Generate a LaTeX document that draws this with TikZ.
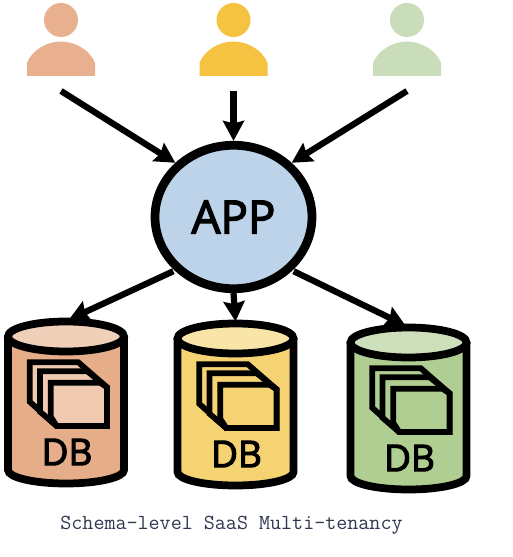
\documentclass[tikz,border=0pt]{standalone}
\usepackage{fontspec}
\newfontfamily\labelfont{Open Sans}[RawFeature={embolden=3}]
\usetikzlibrary{arrows.meta, shapes.geometric}
\definecolor{peach}{HTML}{E8B08E}
\definecolor{amber}{HTML}{F5C242}
\definecolor{sage}{HTML}{CADDBB}
\definecolor{appblue}{HTML}{BDD3E9}
\definecolor{peachbody}{HTML}{E6AE88}
\definecolor{peachlid}{HTML}{F1D0BA}
\definecolor{peachface}{HTML}{EFC9B0}
\definecolor{amberbody}{HTML}{F5D373}
\definecolor{amberlid}{HTML}{FAE5A8}
\definecolor{sagebody}{HTML}{B0CE92}
\definecolor{sagelid}{HTML}{CEDFBC}
\definecolor{caption}{HTML}{2F3850}

\begin{document}
\begin{tikzpicture}[
    x=0.02cm, y=-0.02cm,
    app/.style={
      ellipse, draw=black, fill=appblue, line width=0.175cm, inner sep=0pt,
      minimum width=3.14cm, minimum height=2.87cm,
      font=\labelfont\fontsize{26}{26}\selectfont
    },
    arrow/.style={-{Stealth[length=0.4cm, width=0.42cm, inset=0.05cm]}, black, line width=0.125cm},
    dblabel/.style={font=\labelfont\fontsize{21}{21}\selectfont, inner sep=0pt},
    captionlabel/.style={font=\ttfamily\fontsize{12.2}{12}\selectfont, text=caption, inner sep=0pt},
    page/.style={line width=0.115cm, line join=miter, draw=black},
    pics/user/.style={code={
      \fill[#1] (0,20) circle [radius=17];
      \fill[#1] (-34,76) -- (-34,63) .. controls (-29,50) and (-14,41.5) .. (0,41.5)
        .. controls (14,41.5) and (29,50) .. (34,63) -- (34,76) -- cycle;
      \coordinate (-foot) at (0,91);
    }},
    pics/dbcan/.style n args={3}{code={
      \draw[line width=0.155cm, fill=#1] (-58,18.5) -- (-58,152)
        arc [start angle=180, end angle=0, x radius=58, y radius=13.5]
        -- (58,18.5);
      \draw[line width=0.155cm, fill=#2] (0,18.5) ellipse [x radius=58, y radius=15];
      % stacked pages
      \draw[page, fill=#3] (-36.3,44.3) -- (12.3,44.3) -- (41,69.3) -- (41,108)
        -- (-9.3,108) -- (-36.3,83.7) -- cycle;
      \draw[page, fill=#3] (-26,53.3) -- (21.3,53.3) -- (41,69.3) -- (41,108)
        -- (-9.3,108) -- (-26,93.7) -- cycle;
      \draw[page, fill=#3] (-15.3,64.7) -- (34,64.7) -- (41,69.3) -- (41,108)
        -- (-9.3,108) -- (-15.3,98.7) -- cycle;
      \node[dblabel] (-label) at (1,134) {DB};
      \coordinate (-top) at (0,1.5);
    }}
  ]
  \useasboundingbox (0,0) rectangle (512,557);

  \pic (usera) at (61,0) {user=peach};
  \pic (userb) at (233.5,0) {user=amber};
  \pic (userc) at (407,0) {user=sage};

  \node[app] (server) at (233.5,217) {APP};

  \pic (dba) at (66,318) {dbcan={peachbody}{peachlid}{peachface}};
  \pic (dbb) at (235.5,320) {dbcan={amberbody}{amberlid}{amberbody}};
  \pic (dbc) at (408.5,324) {dbcan={sagebody}{sagelid}{sagebody}};

  \draw[arrow] (usera-foot) -- (server.137);
  \draw[arrow] (userb-foot) -- (server.north);
  \draw[arrow] (userc-foot) -- (server.43);

  \draw[arrow] ([xshift=-0.04cm]server.223) -- ([xshift=0.06cm]dba-top);
  \draw[arrow] (server.south) -- (dbb-top);
  \draw[arrow] ([xshift=0.04cm]server.317) -- ([xshift=-0.06cm]dbc-top);

  \node[captionlabel] (caption) at (231.5,525) {Schema-level SaaS Multi-tenancy};
\end{tikzpicture}
\end{document}
